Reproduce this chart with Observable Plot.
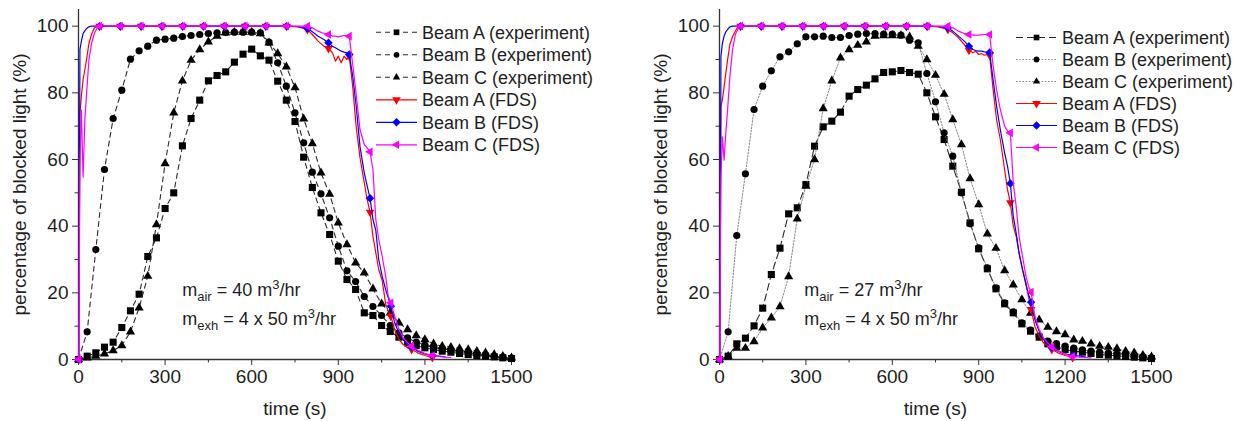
<!DOCTYPE html>
<html><head><meta charset="utf-8">
<script src="https://cdn.jsdelivr.net/npm/d3@7"></script>
<script src="https://cdn.jsdelivr.net/npm/@observablehq/plot@0.6"></script>
<style>
html,body{margin:0;padding:0;background:#fff;}
#wrap{display:flex;width:1236px;height:421px;overflow:hidden;}
#wrap svg{overflow:visible;}
</style></head><body><div id="wrap"></div>
<script>
// ---------- data ----------
const expTime = [0,30,60,90,120,150,180,210,240,270,300,330,360,390,420,450,480,510,540,570,600,630,660,690,720,750,780,810,840,870,900,930,960,990,1020,1050,1080,1110,1140,1170,1200,1230,1260,1290,1320,1350,1380,1410,1440,1470,1500];

const leftExpA = [0,1,2,3.7,5.2,9.6,14.6,19.6,30.9,36.5,45.3,50,64.1,72.3,77.8,83.6,85.2,86.3,89.2,91.6,93.1,91.1,89.8,83.5,77.8,71.4,60.7,51.6,44,37.5,29.5,24,21,14,13.2,10.2,8.4,6.7,5,4.2,3.5,3,2.5,2.2,1.8,1.5,1.2,1,0.8,0.5,0.3];
const leftExpB = [0,8.3,33,57,72.3,80.8,90.1,92.6,94,95.8,96.1,96.4,96.9,97.2,97.5,97.8,98,98.1,98.2,98.2,98.2,98,95.2,89,82,74,65,56.2,49.7,42.5,34,26.6,23.4,18.9,15.9,13.2,10.2,8,6.5,5.2,4.3,3.6,3.2,2.8,2.4,2,1.6,1.3,1,0.7,0.4];
const leftExpC = [0,0.5,1,1.7,2.7,4.2,8.3,15.5,25,40.5,58.8,74,83.6,89.8,93,95.3,97,98,98.2,98.2,98.2,97.8,95,91.8,87.8,81.6,72.2,64.8,56,49.6,41,34.5,29,26,21.2,16.7,14,11,9,7.2,6,4.7,4,3.7,3.3,3,2.5,2,1.5,1,0.5];

const rightExpA = [0,1,4.7,6.4,10.1,15.4,25.5,33.4,43.7,45.5,52.5,64,69.8,71.5,74.2,79,81,82.3,84.2,86.1,86.3,86.7,86.1,85.6,80,72.8,66,58,50.2,41,33.2,27.2,21.2,16.7,14,10.7,8.5,6.7,4.7,3.8,3,2.5,2.2,1.8,1.5,1.3,1.1,0.9,0.7,0.5,0.3];
const rightExpB = [0,8.3,37.2,55.7,75,82,86.6,90.8,92.3,94.7,96.8,96.8,97,96.6,96.6,97.2,97.6,97.8,97.8,97.6,97.6,97.3,95.8,95,85.8,77.3,68,61,50,40.7,33.5,27.5,21.5,17,14.3,11,8.8,7,5.5,4.8,4,3.4,2.9,2.5,2.2,1.9,1.7,1.4,1.1,0.8,0.5];
const rightExpC = [0,1,3.4,3.4,5.4,9.5,12.5,15.9,24.9,42.2,52,60,75.3,83.6,90.5,93,94.3,95.3,97,97.2,97.2,97.2,96.8,94,90,85.3,79.6,72,64.5,54.3,46.5,37.7,33.4,26.7,22.4,18,13.9,11.9,9.7,8.4,7.5,5.9,5.5,4.7,4,3.7,3.3,2.5,2,1.3,0.8];

const fdsTime = [0,1,5,10,16,22,28,36,45,55,65,73,145,217,289,361,433,505,577,649,721,760,793,810,830,850,866,880,890,900,910,920,930,938,950,962,975,990,1000,1010,1020,1030,1040,1052,1064,1073,1082,1095,1110,1125,1140,1154,1175,1200,1226,1250,1270,1290];
const fdsMarkTime = [1,73,145,217,289,361,433,505,577,649,721,793,866,938,1010,1082,1154,1226];

const leftFdsA = [0,0,74,79,84,87,90,94.8,97.5,99.5,100,100,100,100,100,100,100,100,100,100,100,99.8,99,97.5,95.5,94,93.3,92,89.5,91,89,91,90,91,81.8,69.8,60.7,53,48,44.2,37,32,27,23.7,16.7,14.5,13,9,6,4.5,3.5,3,2,1.2,0.6,null,null,null];
const leftFdsB = [0,0,93,95.5,97.8,98.6,99.3,99.8,100,100,100,100,100,100,100,100,100,100,100,100,100,99.9,99.3,98.3,97,96,95,94,93.5,93,92.5,92.2,92,91.5,85,76,64,56,52,48.4,42,38.7,30,25,21,18.5,16,11,8,6,4.5,3.7,2.5,1.7,1.2,1,0.8,null];
const leftFdsC = [0,0,58.8,74.8,54.7,71.8,79.8,89.8,94.8,97.8,99.5,100,100,100,100,100,100,100,100,100,100,100,100,99.5,98.5,97.8,97.5,97,97,96.8,97,97.2,97.2,97,88.5,79.5,69,64.5,63.5,62.3,57,42,36,31,25,19,17,13,9,6.5,5,4,2.8,1.8,1.2,0.9,0.7,0.6];

const rightFdsA = [0,0,76,78,81.8,86,89.8,94.5,96.8,98.5,100,100,100,100,100,100,100,100,100,100,100,99.8,99,98,96.5,94.5,92.8,92,92.5,91.5,91.8,91.3,91.5,91.3,81,72,66,57,51,47,40,37,32,27,23,18.7,15,10,7,5,4,3,2,1.2,0.6,null,null,null];
const rightFdsB = [0,0,91,94.8,97,98.3,99,99.8,100,100,100,100,100,100,100,100,100,100,100,100,100,99.9,99.5,98.5,97,95.5,94,93,92.7,92.5,92.5,92.3,92.2,92.1,84,76,69,62,58,52.8,43,38,32,27,22.5,19.5,17.2,12,8.5,6,4.5,3.5,2.5,1.7,1.2,1,0.8,null];
const rightFdsC = [0,0,55,66.8,59.8,68,74.8,84.8,92.8,97.5,99.3,100,100,100,100,100,100,100,100,100,100,100,100,99.5,98.5,97.8,97.5,97.3,97.3,97.3,97.4,97.5,97.5,97.5,88,81,75,70,68.5,68,53,46,37,31,25,22,20.2,13,9,6.5,5,3.8,2.6,1.6,0.9,0.7,0.6,0.5];

const legendLabels = ["Beam A (experiment)","Beam B (experiment)","Beam C (experiment)","Beam A (FDS)","Beam B (FDS)","Beam C (FDS)"];
const xTicks = [0,300,600,900,1200,1500];
const xMinorTicks = [150,450,750,1050,1350];
const yTicks = [0,20,40,60,80,100];
const yMinorTicks = [10,30,50,70,90];
const airFlow = ["40","27"];
const exhaustFlow = "4 x 50";

// ---------- styling ----------
const FONT = "'Liberation Sans', Arial, Helvetica, sans-serif";
const INK = "#1e1e1e";
const triDown = {draw(ctx, size){const a=Math.sqrt(size*4/Math.sqrt(3)), h=a*Math.sqrt(3)/2; ctx.moveTo(0,2*h/3); ctx.lineTo(a/2,-h/3); ctx.lineTo(-a/2,-h/3); ctx.closePath();}};
const triLeft = {draw(ctx, size){const a=Math.sqrt(size*4/Math.sqrt(3)), h=a*Math.sqrt(3)/2; ctx.moveTo(-2*h/3,0); ctx.lineTo(h/3,-a/2); ctx.lineTo(h/3,a/2); ctx.closePath();}};
const diamond = d3.symbolDiamond2 || {draw(ctx,size){const r=Math.sqrt(size)*0.62625; ctx.moveTo(0,-r);ctx.lineTo(r,0);ctx.lineTo(0,r);ctx.lineTo(-r,0);ctx.closePath();}};
const seriesStyle = [
  {symbol: d3.symbolSquare, r: 4.0, fill: "#000"},
  {symbol: d3.symbolCircle, r: 3.6, fill: "#000"},
  {symbol: d3.symbolTriangle, r: 3.4, fill: "#000"},
  {symbol: triDown, r: 3.2, fill: "#ff0000"},
  {symbol: diamond, r: 3.8, fill: "#0000ff"},
  {symbol: triLeft, r: 3.2, fill: "#ff00ff"}
];

const panels = [
  {exp:[leftExpA,leftExpB,leftExpC], fds:[leftFdsA,leftFdsB,leftFdsC], air: airFlow[0],
   width:618, marginLeft:78, marginRight:107,
   expLine:[{stroke:"#2a2a2a",width:1.1,dash:"5,4"},{stroke:"#2a2a2a",width:1.1,dash:"5,4"},{stroke:"#2a2a2a",width:1.1,dash:"5,4"}],
   legend:{x:376, y:32.3, dy:22.5}, anno:{t:361, v1:18.9, v2:10.2}},
  {exp:[rightExpA,rightExpB,rightExpC], fds:[rightFdsA,rightFdsB,rightFdsC], air: airFlow[1],
   width:618, marginLeft:101, marginRight:85,
   expLine:[{stroke:"#2a2a2a",width:1.1,dash:"7,4"},{stroke:"#666",width:0.8,dash:"1.6,1.6"},{stroke:"#666",width:0.8,dash:"1.6,1.6"}],
   legend:{x:398, y:37.5, dy:22}, anno:{t:296, v1:18.9, v2:10.2}}
];

const fmt = d => String(d);

function makePanel(p){
  const marks = [
    Plot.ruleX([0],{stroke:"#333",strokeWidth:1.3}),
    Plot.ruleY([0],{stroke:"#333",strokeWidth:1.3}),
    Plot.axisX({ticks:xTicks, tickFormat:fmt, tickSize:6, tickPadding:4, stroke:"#333", fill:INK, fontSize:19, label:"time (s)", labelAnchor:"center", labelOffset:55, labelArrow:"none"}),
    Plot.axisX({ticks:xMinorTicks, tickSize:3.5, stroke:"#333", text:null, label:null}),
    Plot.axisY({ticks:yTicks, tickFormat:fmt, tickSize:6, tickPadding:4, stroke:"#333", fill:INK, fontSize:19, label:"percentage of blocked light (%)", labelAnchor:"center", labelOffset:66, labelArrow:"none"}),
    Plot.axisY({ticks:yMinorTicks, tickSize:3.5, stroke:"#333", text:null, label:null})
  ];
  p.exp.forEach((vals,k)=>{
    const rows = expTime.map((t,i)=>({t, v: vals[i]}));
    const ls = p.expLine[k];
    marks.push(Plot.line(rows,{x:"t",y:"v",stroke:ls.stroke,strokeWidth:ls.width,strokeDasharray:ls.dash}));
    marks.push(Plot.dot(rows,{x:"t",y:"v",symbol:seriesStyle[k].symbol,r:seriesStyle[k].r,fill:"#000",stroke:"none"}));
  });
  p.fds.forEach((vals,k)=>{
    const st = seriesStyle[k+3];
    const rows = fdsTime.map((t,i)=>({t, v: vals[i]}));
    marks.push(Plot.line(rows,{x:"t",y:"v",stroke:st.fill,strokeWidth:1.2}));
    marks.push(Plot.dot(rows.filter(d=>d.v!=null && fdsMarkTime.includes(d.t)),{x:"t",y:"v",symbol:st.symbol,r:st.r,fill:st.fill,stroke:"none"}));
  });
  const chart = Plot.plot({
    width:p.width, height:421, marginLeft:p.marginLeft, marginRight:p.marginRight, marginTop:9, marginBottom:62,
    x:{domain:[0,1500]}, y:{domain:[0,105]},
    style:{fontFamily:FONT, fontSize:"19px", color:INK, background:"transparent", overflow:"visible"},
    marks
  });
  const svg = d3.select(chart);
  // legend
  const L = p.legend;
  const lg = svg.append("g").attr("font-family",FONT).attr("font-size",18).attr("fill",INK).attr("text-anchor","start");
  legendLabels.forEach((lab,k)=>{
    const y = L.y + k*L.dy;
    const ls = k<3 ? p.expLine[k] : {stroke:seriesStyle[k].fill, width:1.2, dash:null};
    lg.append("line").attr("x1",L.x).attr("x2",L.x+41).attr("y1",y).attr("y2",y)
      .attr("stroke",ls.stroke).attr("stroke-width",ls.width).attr("stroke-dasharray",ls.dash);
    const rr = k<3 ? seriesStyle[k].r*0.8 : seriesStyle[k].r;
    lg.append("path").attr("transform",`translate(${L.x+20.5},${y})`)
      .attr("d", d3.symbol(seriesStyle[k].symbol, Math.PI*rr*rr)()).attr("fill",seriesStyle[k].fill);
    lg.append("text").attr("x",L.x+46).attr("y",y).attr("dy","0.36em").text(lab);
  });
  // annotation
  const sx = chart.scale("x"), sy = chart.scale("y");
  const fx = sx.apply ? (v)=>sx.apply(v) : d3.scaleLinear(sx.domain, sx.range);
  const fy = sy.apply ? (v)=>sy.apply(v) : d3.scaleLinear(sy.domain, sy.range);
  const lines = [
    {v:p.anno.v1, parts:[["m",0],["air",1],[" = "+p.air+" m",0],["3",2],["/hr",0]]},
    {v:p.anno.v2, parts:[["m",0],["exh",1],[" = "+exhaustFlow+" m",0],["3",2],["/hr",0]]}
  ];
  lines.forEach(line=>{
    const tx = svg.append("text").attr("x",fx(p.anno.t)).attr("y",fy(line.v)).attr("text-anchor","start")
      .attr("font-family",FONT).attr("font-size",18).attr("fill",INK).style("white-space","pre");
    let shift = 0;
    line.parts.forEach(([s,kind])=>{
      const target = kind===1 ? 5 : kind===2 ? -7 : 0;
      tx.append("tspan").attr("dy",target-shift).attr("font-size",kind?13:18).text(s);
      shift = target;
    });
  });
  return chart;
}

const wrap = document.getElementById("wrap");
panels.forEach(p=>wrap.appendChild(makePanel(p)));
</script>
</body></html>
